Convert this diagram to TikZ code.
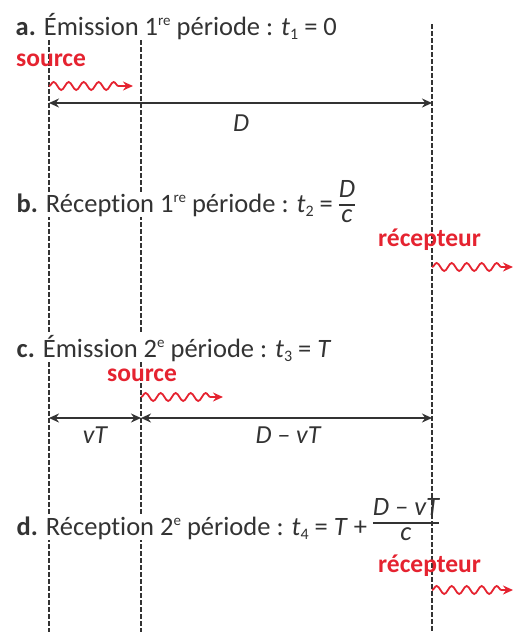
\documentclass[tikz,border=0pt]{standalone}
\usepackage{fontspec}
\setmainfont{Carlito}[Ligatures=NoCommon]
\usetikzlibrary{decorations.pathmorphing,arrows.meta}
\definecolor{txt}{HTML}{333333}
\definecolor{rd}{HTML}{E52330}
\newcommand{\sups}[1]{\raisebox{0.36em}{\fontsize{15}{18}\selectfont #1}}
\newcommand{\subs}[1]{\raisebox{-0.18em}{\fontsize{16}{18}\selectfont #1}}
\newcommand{\fr}[2]{{\renewcommand{\arraystretch}{0.8}\setlength{\arrayrulewidth}{1.1pt}%
  \begin{tabular}{@{}c@{}}#1\\\hline #2\end{tabular}}}
\begin{document}
\begin{tikzpicture}[x=1pt,y=-1pt,
  font=\fontsize{26.5}{31}\selectfont, text=txt,
  guide/.style={draw=txt, dash pattern=on 4.5pt off 2.5pt, line width=1.1pt},
  dim/.style={draw=txt, line width=1.6pt, {Stealth[length=10pt,width=9pt]}-{Stealth[length=10pt,width=9pt]}},
  wave/.style={draw=rd, line width=1.8pt, decorate,
    decoration={snake, amplitude=4pt, segment length=15pt, post length=10pt},
    -{Stealth[length=10pt,width=9pt]}},
  lbl/.style={anchor=base west, inner sep=0.5pt, fill=white},
  frc/.style={anchor=west, inner sep=0pt, font=\fontsize{26.5}{31}\selectfont\itshape},
  redlbl/.style={anchor=base west, inner sep=0pt, text=rd, font=\fontsize{25.5}{30}\selectfont\bfseries},
  dimlbl/.style={anchor=base, inner sep=0pt, font=\fontsize{26}{30}\selectfont\itshape}]
\path[use as bounding box] (0,0) rectangle (523,632);

% guide lines
\coordinate (s1t) at (49,40);  \coordinate (s1b) at (49,632);
\coordinate (s2t) at (141,40); \coordinate (s2b) at (141,632);
\coordinate (rt)  at (432,24); \coordinate (rb)  at (432,632);
\draw[guide] (s1t) -- (s1b);
\draw[guide] (s2t) -- (s2b);
\draw[guide] (rt) -- (rb);

% a.
\node[lbl] (ta) at (15,35) {\textbf{a.} Émission 1\sups{re} période : \textit{t}\subs{1} = 0};
\node[redlbl] (srcA) at (16,66) {source};
\coordinate (wa0) at (49,86); \coordinate (wa1) at (133,86);
\draw[wave] (wa0) -- (wa1);
\coordinate (da0) at (49,103); \coordinate (da1) at (432,103);
\draw[dim] (da0) -- (da1);
\node[dimlbl] (dD) at (241,131) {D};

% b.
\node[lbl] (tb) at (16,212) {\textbf{b.} Réception 1\sups{re} période : \textit{t}\subs{2} =};
\node[frc] (fb) at ([xshift=5pt,yshift=7pt]tb.base east) {\fr{D}{c}};
\node[redlbl] (recB) at (378,246) {récepteur};
\coordinate (wb0) at (432,267); \coordinate (wb1) at (513,267);
\draw[wave] (wb0) -- (wb1);

% c.
\node[lbl] (tc) at (16,357) {\textbf{c.} Émission 2\sups{e} période : \textit{t}\subs{3} = \textit{T}};
\node[redlbl] (srcC) at (107,381) {source};
\coordinate (wc0) at (141,397); \coordinate (wc1) at (223,397);
\draw[wave] (wc0) -- (wc1);
\coordinate (dc0) at (49,418); \coordinate (dc1) at (141,418); \coordinate (dc2) at (432,418);
\draw[dim] (dc0) -- (dc1);
\draw[dim] (dc1) -- (dc2);
\node[dimlbl] (dvT) at (95,443) {vT};
\node[dimlbl] (dDvT) at (288,443) {D – vT};

% d.
\node[lbl] (td) at (16,535) {\textbf{d.} Réception 2\sups{e} période : \textit{t}\subs{4} = \textit{T} +};
\node[frc] (fd) at ([xshift=5pt,yshift=12pt]td.base east) {\fr{D – vT}{c}};
\node[redlbl] (recD) at (378,572) {récepteur};
\coordinate (wd0) at (432,590); \coordinate (wd1) at (513,590);
\draw[wave] (wd0) -- (wd1);
\end{tikzpicture}
\end{document}
